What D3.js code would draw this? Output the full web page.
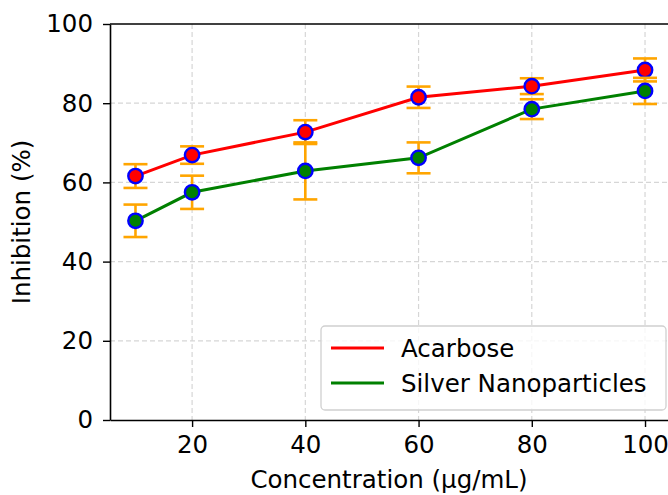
<!DOCTYPE html>
<html><head><meta charset="utf-8">
<script src="https://cdn.jsdelivr.net/npm/d3@7"></script>
<style>body{margin:0;background:#fff;} svg{display:block;font-family:"DejaVu Sans",sans-serif;}</style>
</head><body>
<svg id="c" width="668" height="495"></svg>
<script>
const concentrations = [10, 20, 40, 60, 80, 100];
const acarbose = [61.6, 66.9, 72.7, 81.5, 84.3, 88.4];
const acarboseErr = [3.0, 2.2, 3.0, 2.7, 2.0, 2.9];
const silver = [50.3, 57.5, 62.9, 66.2, 78.5, 83.1];
const silverErr = [4.1, 4.2, 7.2, 3.9, 2.5, 3.3];
const xTicks = [20, 40, 60, 80, 100];
const yTicks = [0, 20, 40, 60, 80, 100];
const seriesNames = ["Acarbose", "Silver Nanoparticles"];

const svg = d3.select("#c");
const L = 110, R = 670.5, T = 24, B = 420;
const x = d3.scaleLinear().domain([5.5, 104.5]).range([L, R]);
const y = d3.scaleLinear().domain([0, 100]).range([B, T]);
const fs = 24.5;

// grid
const grid = svg.append("g");
grid.selectAll(".gx").data(xTicks).join("line")
  .attr("x1", d => x(d)).attr("x2", d => x(d)).attr("y1", T).attr("y2", B)
  .attr("stroke", "#d6d6d6").attr("stroke-width", 1.2).attr("stroke-dasharray", "5,3");
grid.selectAll(".gy").data(yTicks.filter(d => d > 0 && d < 100)).join("line")
  .attr("x1", L).attr("x2", R).attr("y1", d => y(d)).attr("y2", d => y(d))
  .attr("stroke", "#d6d6d6").attr("stroke-width", 1.2).attr("stroke-dasharray", "5,3");

// axes
const xAxis = svg.append("g").attr("transform", `translate(0,${B})`)
  .call(d3.axisBottom(x).tickValues(xTicks).tickSize(7).tickPadding(9).tickSizeOuter(0));
const yAxis = svg.append("g").attr("transform", `translate(${L},0)`)
  .call(d3.axisLeft(y).tickValues(yTicks).tickSize(7).tickPadding(10).tickSizeOuter(0));
[xAxis, yAxis].forEach(a => {
  a.selectAll("text").attr("font-size", fs).attr("font-family", "DejaVu Sans").attr("fill", "#000");
  a.selectAll("line").attr("stroke", "#000").attr("stroke-width", 1.4);
  a.select(".domain").attr("stroke", "#000").attr("stroke-width", 1.6);
});
// top & right spines
svg.append("line").attr("x1", L).attr("x2", R).attr("y1", T).attr("y2", T).attr("stroke", "#000").attr("stroke-width", 1.6);
svg.append("line").attr("x1", R).attr("x2", R).attr("y1", T).attr("y2", B).attr("stroke", "#000").attr("stroke-width", 1.6);

// labels
svg.append("text").attr("x", 389).attr("y", 488).attr("text-anchor", "middle")
  .attr("font-size", fs).text("Concentration (µg/mL)");
svg.append("text").attr("transform", `translate(30,${(T + B) / 2}) rotate(-90)`).attr("text-anchor", "middle")
  .attr("font-size", fs).text("Inhibition (%)");

function drawSeries(vals, errs, color) {
  const g = svg.append("g");
  const pts = concentrations.map((c, i) => ({ c, v: vals[i], e: errs[i] }));
  g.append("path").datum(pts)
    .attr("d", d3.line().x(d => x(d.c)).y(d => y(d.v)))
    .attr("fill", "none").attr("stroke", color).attr("stroke-width", 3);
  const eb = g.selectAll(".eb").data(pts).join("g");
  eb.append("line").attr("x1", d => x(d.c)).attr("x2", d => x(d.c))
    .attr("y1", d => y(d.v - d.e)).attr("y2", d => y(d.v + d.e))
    .attr("stroke", "orange").attr("stroke-width", 2.6);
  [-1, 1].forEach(s => {
    eb.append("line").attr("x1", d => x(d.c) - 12).attr("x2", d => x(d.c) + 12)
      .attr("y1", d => y(d.v + s * d.e)).attr("y2", d => y(d.v + s * d.e))
      .attr("stroke", "orange").attr("stroke-width", 2.6);
  });
  g.selectAll("circle").data(pts).join("circle")
    .attr("cx", d => x(d.c)).attr("cy", d => y(d.v)).attr("r", 7.2)
    .attr("fill", color).attr("stroke", "blue").attr("stroke-width", 2.4);
}
drawSeries(acarbose, acarboseErr, "red");
drawSeries(silver, silverErr, "green");

// legend
const lg = svg.append("g");
lg.append("rect").attr("x", 321).attr("y", 326).attr("width", 345).attr("height", 84)
  .attr("rx", 4).attr("fill", "rgba(255,255,255,0.8)").attr("stroke", "#d0d0d0").attr("stroke-width", 1.3);
const colors = ["red", "green"];
seriesNames.forEach((n, i) => {
  const yy = 348 + i * 35;
  lg.append("line").attr("x1", 331).attr("x2", 384).attr("y1", yy).attr("y2", yy)
    .attr("stroke", colors[i]).attr("stroke-width", 3);
  lg.append("text").attr("x", 401).attr("y", yy + 9).attr("font-size", fs).text(n);
});
</script>
</body></html>
